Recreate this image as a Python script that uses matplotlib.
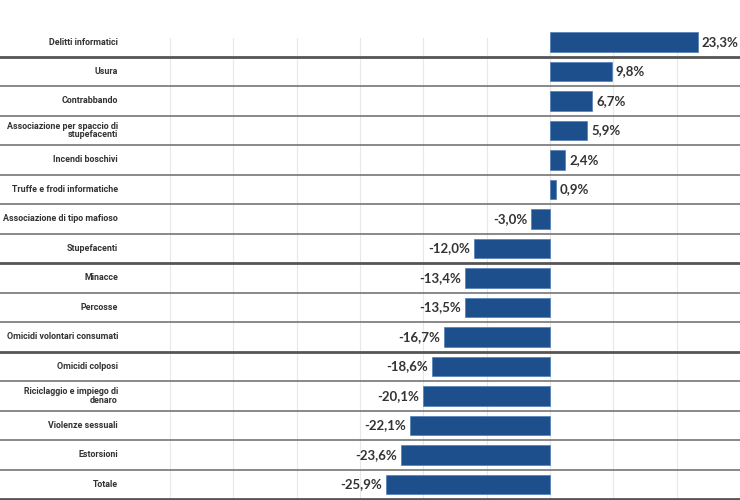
import numpy as np
import matplotlib.pyplot as plt
import matplotlib.transforms as mtransforms

# Dati: variazione percentuale dei reati
reati = ["Delitti informatici", "Usura", "Contrabbando",
         "Associazione per spaccio di\nstupefacenti", "Incendi boschivi",
         "Truffe e frodi informatiche", "Associazione di tipo mafioso",
         "Stupefacenti", "Minacce", "Percosse",
         "Omicidi volontari consumati", "Omicidi colposi",
         "Riciclaggio e impiego di\ndenaro", "Violenze sessuali",
         "Estorsioni", "Totale"]
variazione = [23.3, 9.8, 6.7, 5.9, 2.4, 0.9, -3.0, -12.0, -13.4, -13.5,
              -16.7, -18.6, -20.1, -22.1, -23.6, -25.9]
righe_spesse = [0, 7, 10, 15]

W, H = 740, 500
fig = plt.figure(figsize=(W / 100, H / 100), dpi=100)
ax = fig.add_axes([150 / W, 0, 590 / W, 462 / H])

y = np.arange(len(reati))
ax.barh(y, variazione, height=0.66, color="#1d4f8c", edgecolor="#4f7fb8",
        linewidth=0.5, zorder=3, clip_on=False)

ax.set_xlim(-63.16, 30)
ax.set_ylim(15.53, -0.136)
ax.set_xticks(np.arange(-60, 30, 10))
ax.grid(axis="x", color="#e8e8e8", linewidth=0.8, zorder=0)
ax.tick_params(left=False, bottom=False, labelleft=False, labelbottom=False)
for s in ax.spines.values():
    s.set_visible(False)

# etichette dei valori
for yi, v in zip(y, variazione):
    testo = f"{v:.1f}%".replace(".", ",")
    if v >= 0:
        ax.text(v + 0.6, yi, testo, ha="left", va="center", fontsize=9.5,
                fontweight="bold", color="#333333", family="Lato", zorder=4)
    else:
        ax.text(v - 0.6, yi, testo, ha="right", va="center", fontsize=9.5,
                fontweight="bold", color="#333333", family="Lato", zorder=4)

# nomi dei reati e separatori su tutta la larghezza
trans = mtransforms.blended_transform_factory(fig.transFigure, ax.transData)
for yi, nome in zip(y, reati):
    ax.text(118 / W, yi, nome, transform=trans, ha="right", va="center",
            fontsize=6.4, fontweight="bold", color="#333333",
            family="Roboto", linespacing=0.95)
    if yi in righe_spesse:
        ax.plot([0, 1], [yi + 0.5, yi + 0.5], transform=trans,
                color="#555555", linewidth=2.0, clip_on=False, zorder=5)
    else:
        ax.plot([0, 1], [yi + 0.5, yi + 0.5], transform=trans,
                color="#6a6a6a", linewidth=1.1, clip_on=False, zorder=5)

fig.savefig("out.png", dpi=100)
